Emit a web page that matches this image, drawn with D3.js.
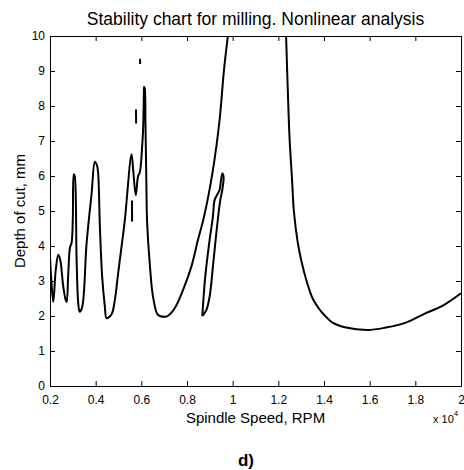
<!DOCTYPE html>
<html>
<head>
<meta charset="utf-8">
<script src="https://cdn.jsdelivr.net/npm/d3@7"></script>
<style>
body { margin: 0; background: #fff; }
text { font-family: "Liberation Sans", Arial, sans-serif; }
</style>
</head>
<body>
<div id="canvas"></div>
<script>
// ----------------------------------------------------------
// DATA -----------------------------------------------------
// ----------------------------------------------------------
var text_title = "Stability chart for milling. Nonlinear analysis";
var text_xlabel = "Spindle Speed, RPM";
var text_ylabel = "Depth of cut, mm";
var text_caption = "d)";

var x_ticks = [2000, 4000, 6000, 8000, 10000, 12000, 14000, 16000, 18000, 20000];
var x_tick_labels = ["0.2", "0.4", "0.6", "0.8", "1", "1.2", "1.4", "1.6", "1.8", "2"];
var y_ticks = [0, 1, 2, 3, 4, 5, 6, 7, 8, 9, 10];

// lobes left of the big lobe, up to its left branch (RPM, mm)
var lobe_left = [
[2000,3.7],[2060,3.0],[2144,2.4],[2250,3.3],[2363,3.75],[2450,3.6],[2581,2.84],[2686,2.46],
[2730,2.4],[2800,3.22],[2874,3.95],[2948,4.1],[3000,4.8],[3040,6.05],[3080,6.0],[3166,3.6],
[3236,2.37],[3300,2.12],[3411,2.26],[3603,4.08],[3822,5.5],[3966,6.41],[4060,6.3],[4110,6.07],
[4185,4.55],[4285,3.12],[4403,2.27],[4477,1.94],[4696,2.05],[4840,2.46],[4984,3.22],[5133,3.98],
[5277,4.74],[5570,6.62],[5640,6.2],[5757,5.45],[5858,6.0],[5932,6.1],[6050,7.0],[6076,7.3],
[6110,8.3],[6120,8.55],[6150,8.5],[6181,7.5],[6220,5.8],[6250,4.74],[6369,3.5],[6513,2.55],
[6732,2.03],[7025,1.98],[7155,2.0],[7461,2.22],[7824,2.74],[8191,3.41],[8479,4.17],[8750,4.85],
[9135,6.17],[9427,7.6],[9620,9.03],[9790,10.0]
];
// right branch of the big lobe
var lobe_right = [
[12340,10],[12410,8.55],[12490,7.1],[12600,5.9],[12680,5.0],[12850,4.1],[13000,3.6],[13215,3.05],
[13504,2.5],[13790,2.2],[13941,2.08],[14378,1.81],[14963,1.67],[15907,1.6],[16710,1.67],
[17584,1.81],[18458,2.08],[19183,2.29],[20000,2.65]
];
// closed island near 0.9 x 10^4
var island = [
[8671,2.0],[8772,2.93],[8846,3.41],[8990,4.17],[9135,4.84],[9209,5.31],[9353,5.5],[9427,5.6],
[9545,6.07],[9602,5.98],[9545,5.6],[9457,5.31],[9283,4.36],[9135,3.41],[8990,2.55],[8846,2.17],
[8671,2.0]
];
// small fragments
var frag_1 = [[5590,5.3],[5595,4.7]];
var frag_2 = [[5765,7.9],[5772,7.5]];
var frag_3 = [[5943,9.35],[5947,9.2]];

var series = [lobe_left, lobe_right, island, frag_1, frag_2, frag_3];


// ----------------------------------------------------------
// STRUCTURE ------------------------------------------------
// ----------------------------------------------------------
var container_width = 464;
var container_height = 470;
var plot_left = 50, plot_top = 36, plot_right = 461, plot_bottom = 386;

var svg = d3.select("#canvas").append("svg")
.attr("width", container_width)
.attr("height", container_height)
.style("background-color", "#fff");

var xScale = d3.scaleLinear()
.domain([2000, 20000])
.range([plot_left, plot_right]);
var yScale = d3.scaleLinear()
.domain([0, 10])
.range([plot_bottom, plot_top]);

svg.append("clipPath")
.attr("id", "clip")
.append("rect")
.attr("x", plot_left)
.attr("y", plot_top)
.attr("width", plot_right - plot_left)
.attr("height", plot_bottom - plot_top);


// ----------------------------------------------------------
// AXES -----------------------------------------------------
// ----------------------------------------------------------
var tick_len = 5;

// bottom, ticks pointing in
svg.append("g")
.attr("transform", "translate(0," + plot_bottom + ")")
.call(d3.axisBottom(xScale).tickValues(x_ticks).tickSizeInner(-tick_len).tickSizeOuter(0)
.tickPadding(9).tickFormat(function(d, i) { return x_tick_labels[i]; }))
.call(customAxis);
// top
svg.append("g")
.attr("transform", "translate(0," + plot_top + ")")
.call(d3.axisTop(xScale).tickValues(x_ticks).tickSizeInner(-tick_len).tickSizeOuter(0).tickFormat(""))
.call(customAxis);
// left
svg.append("g")
.attr("transform", "translate(" + plot_left + ",0)")
.call(d3.axisLeft(yScale).tickValues(y_ticks).tickSizeInner(-tick_len).tickSizeOuter(0)
.tickPadding(5).tickFormat(d3.format("d")))
.call(customAxis);
// right
svg.append("g")
.attr("transform", "translate(" + plot_right + ",0)")
.call(d3.axisRight(yScale).tickValues(y_ticks).tickSizeInner(-tick_len).tickSizeOuter(0).tickFormat(""))
.call(customAxis);

function customAxis(g) {
g.select(".domain").attr("stroke", "#000").attr("stroke-width", 1);
g.selectAll(".tick line").attr("stroke", "#000");
g.selectAll(".tick text").attr("fill", "#000")
.style("font-size", "12px")
.style("font-family", "'Liberation Sans', Arial, sans-serif");
}


// ----------------------------------------------------------
// GFX ------------------------------------------------------
// ----------------------------------------------------------
var line = d3.line()
.x(function(d) { return xScale(d[0]); })
.y(function(d) { return yScale(d[1]); })
.curve(d3.curveCatmullRom.alpha(0.5));

svg.append("g")
.attr("clip-path", "url(#clip)")
.selectAll("path")
.data(series)
.enter()
.append("path")
.attr("d", line)
.attr("fill", "none")
.attr("stroke", "#000")
.attr("stroke-width", 2)
.attr("stroke-linejoin", "round");


// ----------------------------------------------------------
// TEXT -----------------------------------------------------
// ----------------------------------------------------------
svg.append("text")
.attr("x", (plot_left + plot_right) / 2)
.attr("y", 25)
.attr("text-anchor", "middle")
.style("font-size", "17.5px")
.text(text_title);

svg.append("text")
.attr("x", (plot_left + plot_right) / 2)
.attr("y", 423)
.attr("text-anchor", "middle")
.style("font-size", "15px")
.text(text_xlabel);

svg.append("text")
.attr("transform", "translate(25," + (plot_top + plot_bottom) / 2 + ")rotate(-90)")
.attr("text-anchor", "middle")
.style("font-size", "15px")
.text(text_ylabel);

// exponent note
var expo = svg.append("text")
.attr("x", 433)
.attr("y", 423)
.style("font-size", "11px");
expo.append("tspan").text("x 10");
expo.append("tspan").attr("dy", -7).style("font-size", "8px").text("4");

svg.append("text")
.attr("x", 246)
.attr("y", 466)
.attr("text-anchor", "middle")
.style("font-size", "17px")
.style("font-weight", "bold")
.text(text_caption);
</script>
</body>
</html>
